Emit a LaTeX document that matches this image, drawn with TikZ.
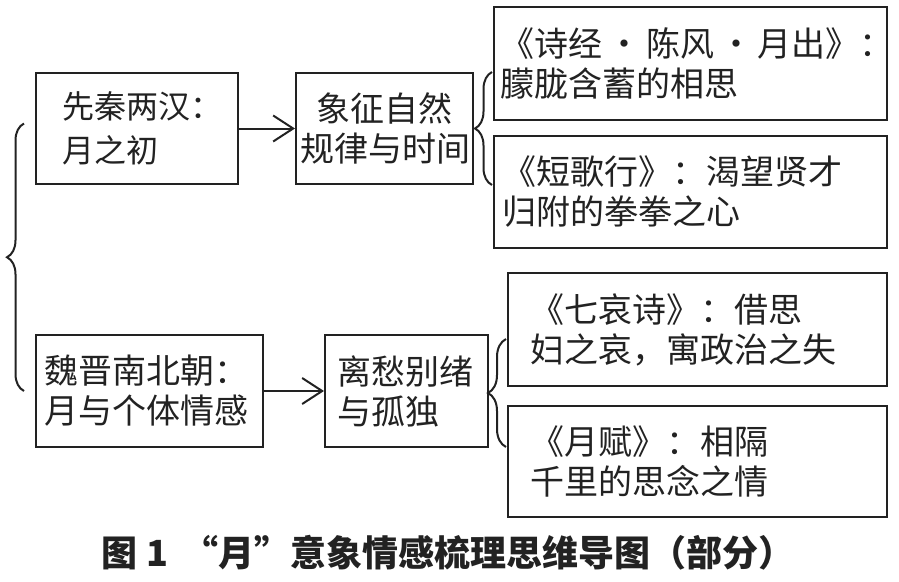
\documentclass[tikz,border=0pt]{standalone}
\usepackage{fontspec}
\newfontfamily\cjk{Noto Sans CJK SC}
\usetikzlibrary{arrows.meta,decorations.pathreplacing,calc}
\definecolor{ink}{HTML}{222222}
\newcommand{\mdot}{\hspace{5pt}{\char"00B7}\hspace{5pt}}
\begin{document}
\begin{tikzpicture}[x=1pt,y=-1pt,
  box/.style={draw=ink, line width=2pt, rectangle, text=ink, inner ysep=0pt,
    font=\cjk\fontsize{34}{40}\selectfont, align=left},
  arr/.style={draw=ink, line width=2pt, -{Straight Barb[length=20pt,width=26pt,line width=2pt]}},
  brc/.style={draw=ink, line width=2pt, decorate, decoration={brace, amplitude=#1}},
  captext/.style={text=ink, font=\cjk\bfseries\fontsize{36}{40}\selectfont}]
\useasboundingbox (0,0) rectangle (899,581);

\node[box, minimum width=202pt, minimum height=111pt, inner xsep=26pt, text width=150pt,
  font=\cjk\fontsize{32}{44}\selectfont] (A) at (137,128.5) {先秦两汉：\\月之初};
\node[box, minimum width=177pt, minimum height=111pt, inner xsep=4pt, text width=169pt, align=center] (B) at (384.5,128.5) {象征自然\\规律与时间};
\node[box, minimum width=393pt, minimum height=113pt, inner xsep=6pt, text width=381pt] (C1) at (690.5,63.5)
  {\mbox{《诗经\mdot 陈风\mdot 月出》：}\\朦胧含蓄的相思};
\node[box, minimum width=393pt, minimum height=112pt, inner xsep=8pt, text width=377pt] (C2) at (690.5,192) {《短歌行》：渴望贤才\\归附的拳拳之心};

\node[box, minimum width=227pt, minimum height=112pt, inner xsep=8pt, text width=211pt] (D) at (149.5,391) {魏晋南北朝：\\月与个体情感};
\node[box, minimum width=163pt, minimum height=112pt, inner xsep=12pt, text width=139pt] (E) at (406.5,391) {离愁别绪\\与孤独};
\node[box, minimum width=379pt, minimum height=113pt, inner xsep=22pt, text width=335pt] (F1) at (697.5,329.5) {《七哀诗》：借思\\妇之哀，寓政治之失};
\node[box, minimum width=379pt, minimum height=111pt, inner xsep=22pt, text width=335pt] (F2) at (697.5,461.5) {《月赋》：相隔\\千里的思念之情};

\draw[arr] (A) -- (B);
\draw[arr] (D) -- (E);

\draw[brc=17pt] ($(D.west)+(-11,0)$) -- ($(A.west)+(-11,-5)$);
\draw[brc=17pt] ($(B.south east -| C1.west)+(-1,0)$) -- ($(B.north east -| C1.west)+(-1,0)$);
\draw[brc=18pt] ($(E.south east -| F1.west)+(-1,-1)$) -- ($(E.north east -| F1.west)+(-1,5)$);

\node[captext] (caption) at (448,553) {图 1\hspace{14pt}“月”意象情感梳理思维导图（部分）};
\end{tikzpicture}
\end{document}
